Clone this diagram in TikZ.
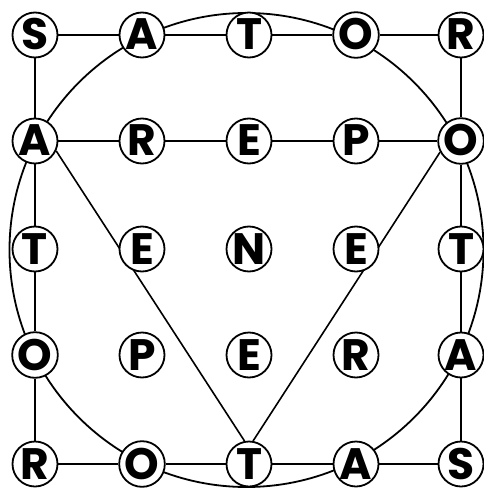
\documentclass[tikz,border=0pt]{standalone}
\usepackage{fontspec}
\setmainfont{Poppins}[BoldFont={* Bold}]
\usetikzlibrary{backgrounds}
\tikzset{
  letter/.style={circle, draw, line width=1.8pt, fill=white, minimum size=45pt, inner sep=0pt,
    font=\fontsize{44}{44}\selectfont\bfseries, text height=30pt, text depth=0pt},
  link/.style={line width=1.6pt},
  ring/.style={line width=1.8pt}
}
\begin{document}
\begin{tikzpicture}[x=1pt,y=-1pt]
\useasboundingbox (0,0) rectangle (483,489);
% row 1
\node[letter] (n11) at (35,35) {S};
\node[letter] (n12) at (142,35) {A};
\node[letter] (n13) at (249,35) {T};
\node[letter] (n14) at (356,35) {O};
\node[letter] (n15) at (461,35) {R};
% row 2
\node[letter] (n21) at (35,141) {A};
\node[letter] (n22) at (142,141) {R};
\node[letter] (n23) at (249,141) {E};
\node[letter] (n24) at (356,141) {P};
\node[letter] (n25) at (461,141) {O};
% row 3
\node[letter] (n31) at (35,249) {T};
\node[letter] (n32) at (142,249) {E};
\node[letter] (n33) at (249,249) {N};
\node[letter] (n34) at (356,249) {E};
\node[letter] (n35) at (461,249) {T};
% row 4
\node[letter] (n41) at (35,355) {O};
\node[letter] (n42) at (142,355) {P};
\node[letter] (n43) at (249,355) {E};
\node[letter] (n44) at (356,355) {R};
\node[letter] (n45) at (461,355) {A};
% row 5
\node[letter] (n51) at (35,464) {R};
\node[letter] (n52) at (142,464) {O};
\node[letter] (n53) at (249,464) {T};
\node[letter] (n54) at (356,464) {A};
\node[letter] (n55) at (461,464) {S};
\coordinate (mid) at (246.5,250);
\begin{scope}[on background layer]
  \fill[white] (0,0) rectangle (483,489);
  \draw[ring] (mid) circle[radius=237];
  \draw[link] (n11) -- (n12) -- (n13) -- (n14) -- (n15);
  \draw[link] (n51) -- (n52) -- (n53) -- (n54) -- (n55);
  \draw[link] (n11) -- (n21) -- (n31) -- (n41) -- (n51);
  \draw[link] (n15) -- (n25) -- (n35) -- (n45) -- (n55);
  \draw[link] (n21) -- (n22) -- (n23) -- (n24) -- (n25);
  \draw[link] (n21.-25) -- (n53.101);
  \draw[link] (n25.-152) -- (n53.80);
\end{scope}
\end{tikzpicture}
\end{document}
